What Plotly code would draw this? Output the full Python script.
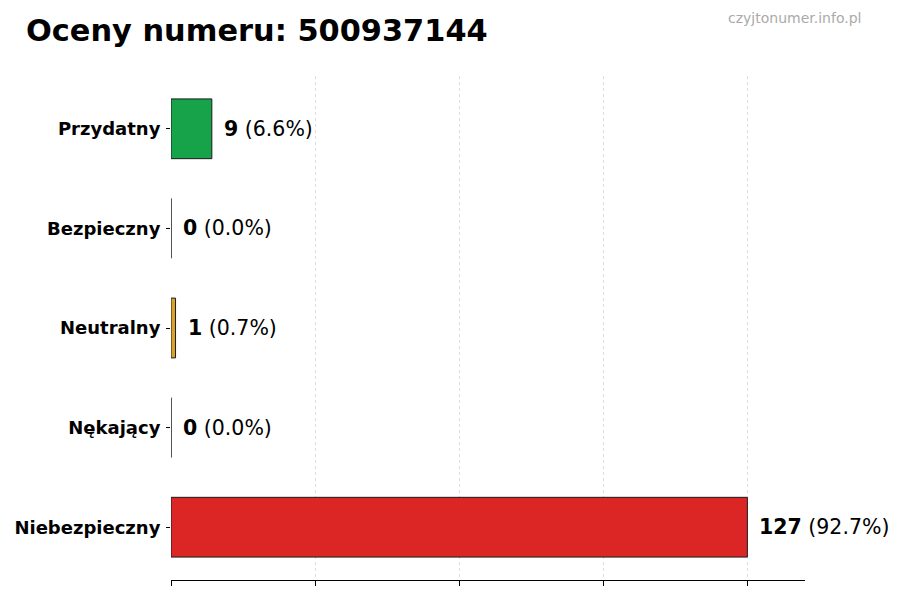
import plotly.graph_objects as go

categories = ["Przydatny", "Bezpieczny", "Neutralny", "Nękający", "Niebezpieczny"]
counts = [9, 0, 1, 0, 127]
colors = ["#17a34a", "#2ba84a", "#d8a328", "#9b5de5", "#dc2626"]
title_text = "Oceny numeru: 500937144"
watermark = "czyjtonumer.info.pl"

total = sum(counts)
maxv = max(counts)

fig = go.Figure()
fig.add_trace(go.Bar(
    y=categories,
    x=counts,
    orientation="h",
    width=0.6,
    marker=dict(color=colors, line=dict(color="#1a1a1a", width=1)),
    hoverinfo="skip",
))

for c, v in zip(categories, counts):
    pct = 100.0 * v / total
    fig.add_annotation(
        x=v, y=c, xref="x", yref="y",
        text=f"<b>{v}</b> ({pct:.1f}%)",
        showarrow=False, xanchor="left", yanchor="middle",
        xshift=10,
        font=dict(family="DejaVu Sans", size=20.5, color="#000"),
    )

fig.add_annotation(
    text=f"<b>{title_text}</b>", xref="paper", yref="paper",
    x=-0.232, y=1.0, xanchor="left", yanchor="bottom", yshift=26,
    showarrow=False, font=dict(family="DejaVu Sans", size=30.4, color="#000"),
)
fig.add_annotation(
    text=watermark, xref="paper", yref="paper",
    x=1.092, y=1.0, xanchor="right", yanchor="bottom", yshift=48,
    showarrow=False, font=dict(family="DejaVu Sans", size=14, color="#aaaaaa"),
)

step = maxv / 4
fig.update_layout(
    width=900, height=600,
    margin=dict(l=171, r=95, t=76, b=20, autoexpand=False),
    paper_bgcolor="white", plot_bgcolor="white",
    showlegend=False,
    font=dict(family="DejaVu Sans", color="#000"),
)
fig.update_xaxes(
    range=[0, maxv * 1.1],
    tickvals=[step * i for i in range(5)],
    showticklabels=False,
    ticks="outside", ticklen=5, tickcolor="#000",
    showline=True, linecolor="#000", linewidth=1,
    showgrid=True, gridcolor="#dddddd", griddash="3px,3px", gridwidth=1,
    zeroline=False, automargin=False,
)
fig.update_yaxes(
    categoryorder="array", categoryarray=categories[::-1],
    range=[-0.53, 4.53],
    ticks="outside", ticklen=4, tickcolor="#000",
    showline=False, showgrid=False, zeroline=False,
    tickfont=dict(family="DejaVu Sans", size=18, color="#000"),
    ticklabelstandoff=2, automargin=False,
    tickprefix="<b>", ticksuffix="</b>",
)

fig.write_html("out.html", config={"displayModeBar": False},
               post_script="document.body.style.margin='0';")
